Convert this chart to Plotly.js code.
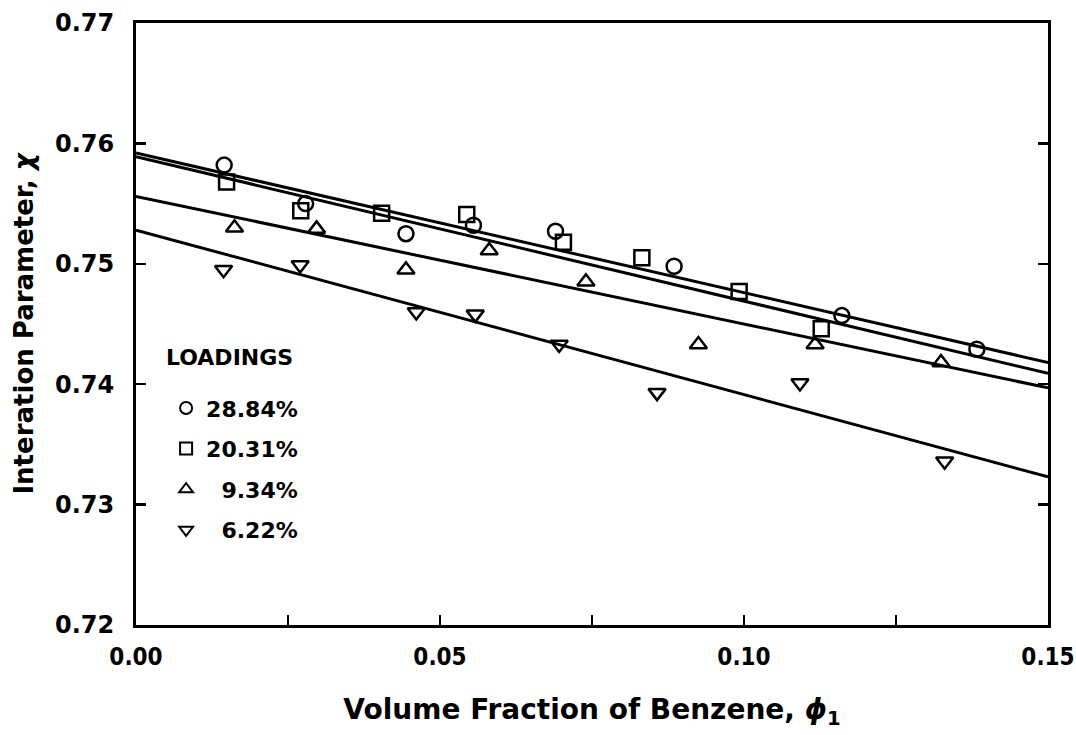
<!DOCTYPE html>
<html>
<head>
<meta charset="utf-8">
<script src="https://cdn.plot.ly/plotly-3.0.1.min.js"></script>
<style>
  html, body { margin: 0; padding: 0; background: #ffffff; }
  #chart { width: 1076px; height: 735px; }
</style>
</head>
<body>
<div id="chart"></div>
<script>
// Series labels (polymer loadings)
const loadings = ['28.84%', '20.31%', '\u20079.34%', '\u20076.22%'];
const symbols = ['circle-open', 'square-open', 'triangle-up-open', 'triangle-down-open'];

// Measured interaction parameter vs. benzene volume fraction
const phi2884 = [0.0145, 0.0279, 0.0444, 0.0555, 0.0690, 0.0885, 0.1161, 0.1383];
const chi2884 = [0.7582, 0.7550, 0.7525, 0.7532, 0.7527, 0.7498, 0.7457, 0.7429];

const phi2031 = [0.0149, 0.0271, 0.0404, 0.0544, 0.0703, 0.0832, 0.0992, 0.1127];
const chi2031 = [0.7568, 0.7544, 0.7542, 0.7541, 0.7518, 0.7505, 0.7477, 0.7446];

const phi934 = [0.0162, 0.0297, 0.0444, 0.0581, 0.0740, 0.0925, 0.1117, 0.1324];
const chi934 = [0.7530, 0.7529, 0.7495, 0.7511, 0.7485, 0.7433, 0.7433, 0.7418];

const phi622 = [0.0144, 0.0270, 0.0461, 0.0558, 0.0696, 0.0857, 0.1092, 0.1330];
const chi622 = [0.7495, 0.7499, 0.7460, 0.7458, 0.7433, 0.7393, 0.7401, 0.7336];

// Least-squares lines, evaluated at the ends of the axis
const fitPhi = [0.0, 0.15];
const fit2884 = [0.7592, 0.7418];
const fit2031 = [0.7589, 0.7409];
const fit934 = [0.7556, 0.7397];
const fit622 = [0.7528, 0.7323];

const phiSets = [phi2884, phi2031, phi934, phi622];
const chiSets = [chi2884, chi2031, chi934, chi622];
const fitSets = [fit2884, fit2031, fit934, fit622];

const traces = [];
fitSets.forEach((f) => {
  traces.push({
    x: fitPhi, y: f, mode: 'lines', showlegend: false, hoverinfo: 'skip',
    line: { color: '#000', width: 3 }
  });
});
phiSets.forEach((p, i) => {
  traces.push({
    x: p, y: chiSets[i], mode: 'markers', name: loadings[i],
    legendgroup: 'g' + i,
    marker: { symbol: symbols[i], size: 15, color: '#000', line: { color: '#000', width: 2.5 } }
  });
});

const boldFont = (size, family) => ({
  family: family || 'DejaVu Sans, Verdana, sans-serif', size: size, color: '#000', weight: 700
});

const layout = {
  width: 1076, height: 735,
  paper_bgcolor: '#fff', plot_bgcolor: '#fff',
  margin: { l: 136, r: 28, t: 23, b: 110 },
  showlegend: true,
  legend: {
    x: 0.033, y: 0.395, xanchor: 'left', yanchor: 'top',
    bgcolor: 'rgba(0,0,0,0)', borderwidth: 0,
    font: boldFont(22),
    tracegroupgap: 9,
    itemsizing: 'constant'
  },
  annotations: [{
    text: 'LOADINGS', xref: 'paper', yref: 'paper',
    x: 0.031, y: 0.445, xanchor: 'left', yanchor: 'middle',
    showarrow: false, font: boldFont(22)
  }],
  xaxis: {
    range: [0, 0.15], tick0: 0, dtick: 0.05, tickformat: '.2f',
    ticks: 'inside', ticklen: 10, tickwidth: 2.5, tickcolor: '#000',
    minor: { tick0: 0, dtick: 0.025, ticks: 'inside', ticklen: 10, tickwidth: 2.5, tickcolor: '#000' },
    showline: true, linewidth: 3, linecolor: '#000', mirror: true,
    showgrid: false, zeroline: false,
    tickfont: boldFont(24, 'DejaVu Sans Condensed, DejaVu Sans, sans-serif'),
    ticklabelstandoff: 8,
    title: {
      text: 'Volume Fraction of Benzene, <i>ϕ</i><sub>1</sub>',
      font: boldFont(28),
      standoff: 30
    }
  },
  yaxis: {
    range: [0.72, 0.77], tick0: 0.72, dtick: 0.01, tickformat: '.2f',
    ticks: 'inside', ticklen: 10, tickwidth: 2.5, tickcolor: '#000',
    showline: true, linewidth: 3, linecolor: '#000', mirror: 'ticks',
    showgrid: false, zeroline: false,
    tickfont: boldFont(24),
    ticklabelstandoff: 14,
    title: {
      text: 'Interation Parameter, <i>χ</i>',
      font: boldFont(26),
      standoff: 14
    }
  }
};

Plotly.newPlot('chart', traces, layout, { displayModeBar: false, staticPlot: true });
</script>
</body>
</html>
